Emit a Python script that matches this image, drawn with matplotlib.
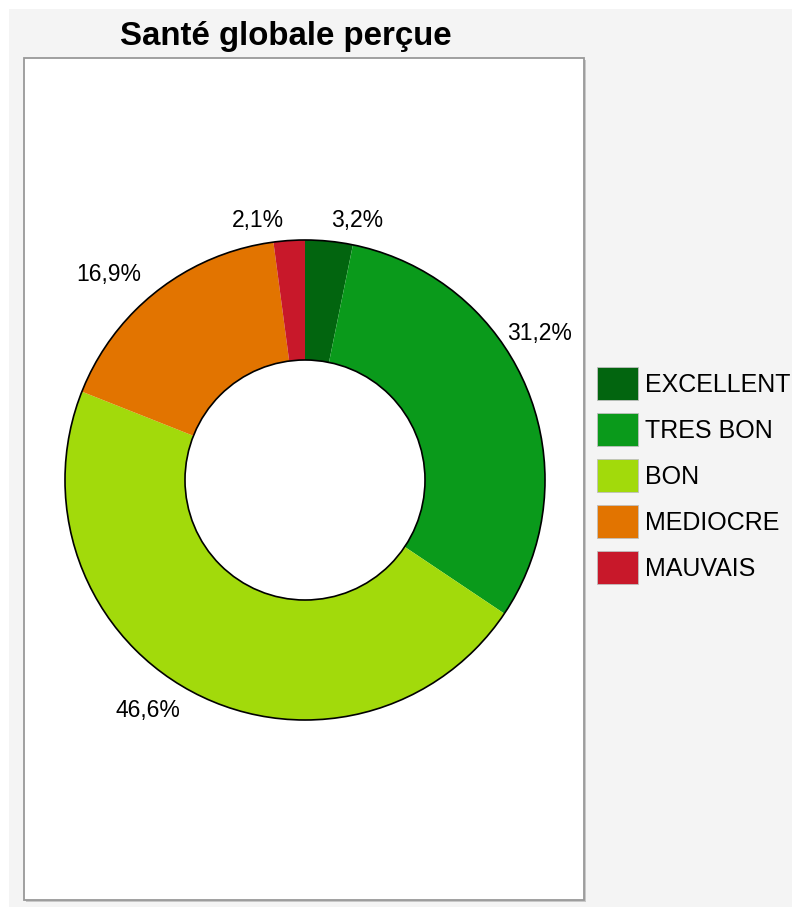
import numpy as np
import matplotlib
matplotlib.use("Agg")
import matplotlib.pyplot as plt
from matplotlib.patches import Rectangle, Circle

title = "Santé globale perçue"
categories = ["EXCELLENT", "TRES BON", "BON", "MEDIOCRE", "MAUVAIS"]
values = [3.2, 31.2, 46.6, 16.9, 2.1]
labels = ["3,2%", "31,2%", "46,6%", "16,9%", "2,1%"]
colors = ["#02650f", "#0a9a1b", "#a2da0b", "#e27400", "#c8182a"]

plt.rcParams['font.family'] = ['Liberation Sans', 'DejaVu Sans']

W, H = 792, 907
fig = plt.figure(figsize=(W / 100, H / 100), dpi=100)
fig.patch.set_facecolor("white")

def fx(px):
    return px / W

def fy(py):
    return 1 - py / H

# background and panel
fig.patches.append(Rectangle((fx(9), 0), 1 - fx(9), fy(9), transform=fig.transFigure,
                             facecolor="#f4f4f4", edgecolor="none", zorder=0))
fig.patches.append(Rectangle((fx(26), fy(902)), fx(560), (902 - 60) / H, transform=fig.transFigure,
                             facecolor="#c8c8c8", edgecolor="none", zorder=0.5))
fig.patches.append(Rectangle((fx(24), fy(900)), fx(560), (900 - 58) / H, transform=fig.transFigure,
                             facecolor="white", edgecolor="#999999", linewidth=1.3, zorder=1))

fig.text(fx(286), fy(36), title, ha="center", va="center", fontsize=23.8,
         fontweight="bold", color="black")

# donut axes: center (305, 480) px, radius 240 px
cx, cy, half = 305, 480, 300
ax = fig.add_axes([fx(cx - half), fy(cy + half), fx(2 * half), 2 * half / H])
ax.set_zorder(3)
ax.set_xlim(-1.25, 1.25)
ax.set_ylim(-1.25, 1.25)
ax.set_aspect("equal")
ax.axis("off")
ax.patch.set_alpha(0)

wedges, _ = ax.pie(values, colors=colors, startangle=90, counterclock=False,
                   radius=1.0, wedgeprops=dict(width=0.5, edgecolor="none", linewidth=0))
ax.add_patch(Circle((0, 0), 1.0, facecolor="none", edgecolor="black", linewidth=1.2, zorder=5))
ax.add_patch(Circle((0, 0), 0.5, facecolor="none", edgecolor="black", linewidth=1.2, zorder=5))

# labels at mid angle, pushed inside panel if needed
total = sum(values)
cum = 0.0
for i, (v, lab) in enumerate(zip(values, labels)):
    mid = (cum + v / 2) / total * 2 * np.pi
    cum += v
    r = 1.085
    ang = mid
    if lab == "31,2%":
        # label would overflow the panel: moved up along the ring
        ang = np.deg2rad(54)
        r = 1.04
    x, y = r * np.sin(ang), r * np.cos(ang)
    ha = "left" if np.sin(ang) > 0 else "right"
    dx = 0.0 if ha == "left" else -0.015
    ax.text(x + dx, y, lab, ha=ha, va="center", fontsize=16.5, color="black", zorder=6)

# legend
lx, ly0, step = 597, 367, 46
for i, (name, c) in enumerate(zip(categories, colors)):
    top = ly0 + i * step
    fig.patches.append(Rectangle((fx(lx), fy(top + 33)), fx(41), 33 / H, transform=fig.transFigure,
                                 facecolor=c, edgecolor="#bfbfbf", linewidth=0.6, zorder=2))
    fig.text(fx(645), fy(top + 18), name, ha="left", va="center", fontsize=18, color="black")

fig.savefig("out.png", dpi=100)
